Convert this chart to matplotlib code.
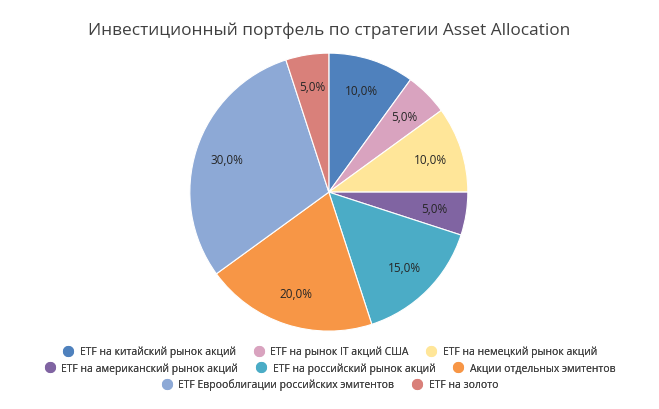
import matplotlib.pyplot as plt
from matplotlib.lines import Line2D

plt.rcParams['font.family'] = ['Open Sans', 'DejaVu Sans']

# данные портфеля
labels = [
    'ETF на китайский рынок акций',
    'ETF на рынок IT акций США',
    'ETF на немецкий рынок акций',
    'ETF на американский рынок акций',
    'ETF на российский рынок акций',
    'Акции отдельных эмитентов',
    'ETF Еврооблигации российских эмитентов',
    'ETF на золото',
]
shares = [10, 5, 10, 5, 15, 20, 30, 5]
colors = ['#4F81BD', '#D9A3BF', '#FFE699', '#8064A2',
          '#4BACC6', '#F79646', '#8DA9D6', '#D9807A']

fig = plt.figure(figsize=(6.59, 4.10), dpi=100)
ax = fig.add_axes([0.499 - 0.211, 0.529 - 0.339, 0.422, 0.678])

ax.pie(shares, colors=colors, startangle=90, counterclock=False,
       autopct=lambda p: f'{p:.1f}%'.replace('.', ','), pctdistance=0.77,
       wedgeprops=dict(edgecolor='white', linewidth=0.8),
       textprops=dict(fontsize=8.5, color='#262626'))
ax.set_xlim(-1, 1)
ax.set_ylim(-1, 1)
ax.set_aspect('equal')

fig.text(0.5, 0.925, 'Инвестиционный портфель по стратегии Asset Allocation',
         ha='center', va='center', fontsize=12.4, color='#404040')

# легенда в три строки, каждая по центру
def handle(c):
    return Line2D([], [], marker='o', linestyle='', markersize=7,
                  markerfacecolor=c, markeredgecolor=c)

rows = [(0, 3, 0.140), (3, 6, 0.100), (6, 8, 0.060)]
for a, b, y in rows:
    leg = fig.legend([handle(c) for c in colors[a:b]], labels[a:b],
                     loc='center', bbox_to_anchor=(0.5, y), ncol=b - a,
                     frameon=False, fontsize=7.5, handletextpad=0.5,
                     columnspacing=1.6, handlelength=1.2, borderpad=0,
                     labelcolor='#404040')
    fig.add_artist(leg)

fig.savefig('out.png', dpi=100)
